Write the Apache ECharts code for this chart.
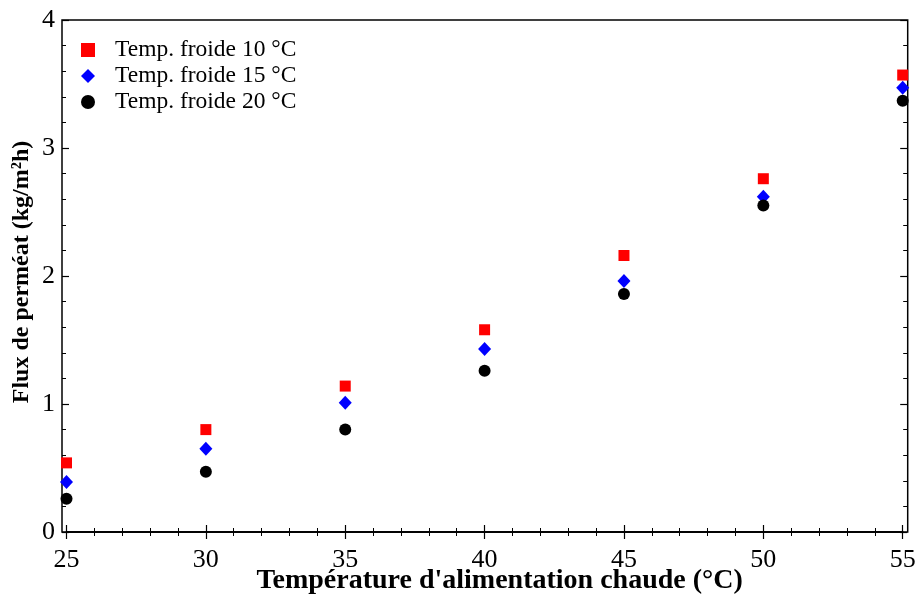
<!DOCTYPE html>
<html>
<head>
<meta charset="utf-8">
<script src="https://cdn.jsdelivr.net/npm/echarts@6/dist/echarts.min.js"></script>
<style>
  html, body { margin: 0; padding: 0; background: #fff; }
  #main { width: 916px; height: 594px; }
</style>
</head>
<body>
<div id="main"></div>
<script>
// températures d'alimentation chaude (°C)
var tempChaude = [25, 30, 35, 40, 45, 50, 55];
// flux de perméat (kg/m²h) pour chaque température froide
var flux10 = [0.54, 0.80, 1.14, 1.58, 2.16, 2.76, 3.57];
var flux15 = [0.39, 0.65, 1.01, 1.43, 1.96, 2.62, 3.47];
var flux20 = [0.26, 0.47, 0.80, 1.26, 1.86, 2.55, 3.37];
var seriesNames = ["Temp. froide 10 °C", "Temp. froide 15 °C", "Temp. froide 20 °C"];

function pairs(ys) {
  return tempChaude.map(function (x, i) { return [x, ys[i]]; });
}

var font = "'Liberation Serif', 'Times New Roman', serif";
var myChart = echarts.init(document.getElementById("main"));

// axes avec graduations vers l'intérieur
function xAx(pos, showLabel) {
  return {
    gridIndex: 0, type: "value", position: pos,
    min: 25, max: 55, interval: 5,
    axisLine: { show: true, lineStyle: { color: "#000", width: 1.5 } },
    axisTick: { show: true, inside: true, length: 7, lineStyle: { color: "#000", width: 1.2 } },
    minorTick: { show: true, splitNumber: 5, length: 4, lineStyle: { color: "#000", width: 1 } },
    splitLine: { show: false },
    axisLabel: { show: showLabel, fontFamily: font, fontSize: 26, color: "#000", margin: 15 }
  };
}
function yAx(pos, showLabel) {
  return {
    gridIndex: 0, type: "value", position: pos, offset: 4.5,
    min: 0, max: 4, interval: 1,
    axisLine: { show: false },
    axisTick: { show: true, inside: true, length: 7, lineStyle: { color: "#000", width: 1.2 } },
    minorTick: { show: true, splitNumber: 5, length: 4, lineStyle: { color: "#000", width: 1 } },
    splitLine: { show: false },
    axisLabel: { show: showLabel, fontFamily: font, fontSize: 26, color: "#000", margin: 7 }
  };
}

var xBottom = xAx("bottom", true);
xBottom.name = "Température d'alimentation chaude (°C)";
xBottom.nameLocation = "middle";
xBottom.nameGap = 35;
xBottom.nameMoveOverlap = false;
xBottom.nameTextStyle = { fontFamily: font, fontSize: 28, fontWeight: "bold", color: "#000", padding: [0, 0, 0, 30] };

var yLeft = yAx("left", true);
yLeft.name = "Flux de perméat (kg/m²h)";
yLeft.nameLocation = "middle";
yLeft.nameGap = 28;
yLeft.nameMoveOverlap = false;
yLeft.nameTextStyle = { fontFamily: font, fontSize: 24, fontWeight: "bold", color: "#000", padding: [0, 0, 0, 8] };

myChart.setOption({
  backgroundColor: "#fff",
  animation: false,
  grid: [
    { left: 66.5, right: 13.3, top: 20, bottom: 62, outerBoundsMode: "none" },
    // cadre
    { left: 62, right: 8.3, top: 20, bottom: 62, outerBoundsMode: "none", show: true, borderColor: "#000", borderWidth: 1.5, backgroundColor: "transparent" }
  ],
  xAxis: [
    xBottom,
    xAx("top", false),
    { gridIndex: 1, type: "value", show: false }
  ],
  yAxis: [
    yLeft,
    yAx("right", false),
    { gridIndex: 1, type: "value", show: false }
  ],
  legend: {
    orient: "vertical",
    left: 76,
    top: 33,
    itemWidth: 14,
    itemHeight: 14,
    itemGap: 2,
    textStyle: { fontFamily: font, fontSize: 23.5, color: "#000", lineHeight: 23, padding: [0, 0, 0, 15] },
    data: seriesNames
  },
  series: [
    {
      name: seriesNames[0], type: "scatter", xAxisIndex: 0, yAxisIndex: 0,
      symbol: "rect", symbolSize: 11,
      itemStyle: { color: "#ff0000", opacity: 1 },
      data: pairs(flux10)
    },
    {
      name: seriesNames[1], type: "scatter", xAxisIndex: 0, yAxisIndex: 0,
      symbol: "diamond", symbolSize: [13, 14],
      itemStyle: { color: "#0000ff", opacity: 1 },
      data: pairs(flux15)
    },
    {
      name: seriesNames[2], type: "scatter", xAxisIndex: 0, yAxisIndex: 0,
      symbol: "circle", symbolSize: 12,
      itemStyle: { color: "#000", opacity: 1 },
      data: pairs(flux20)
    }
  ]
});
</script>
</body>
</html>
